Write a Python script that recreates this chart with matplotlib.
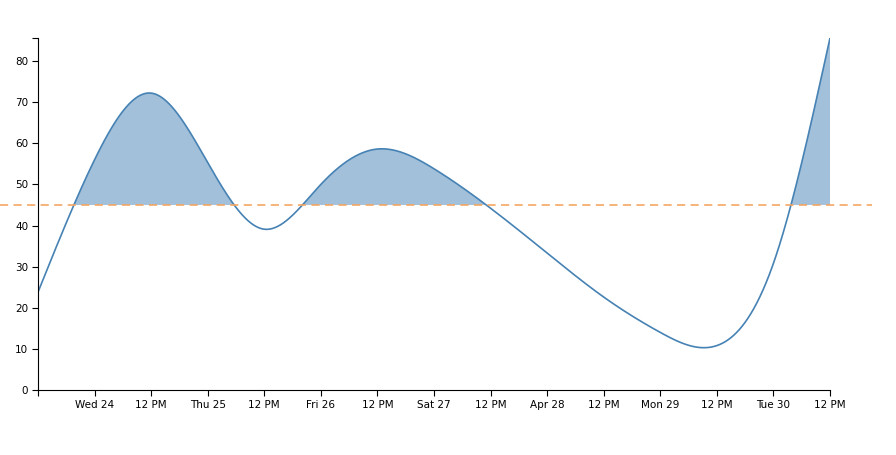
import numpy as np
import matplotlib
matplotlib.use("Agg")
import matplotlib.pyplot as plt
import matplotlib.dates as mdates
from datetime import datetime

# readings every 12 hours
times = ["2024-04-23 12:00", "2024-04-24 00:00", "2024-04-24 12:00",
         "2024-04-25 00:00", "2024-04-25 12:00", "2024-04-26 00:00",
         "2024-04-26 12:00", "2024-04-27 00:00", "2024-04-27 12:00",
         "2024-04-28 00:00", "2024-04-28 12:00", "2024-04-29 00:00",
         "2024-04-29 12:00", "2024-04-30 00:00", "2024-04-30 12:00"]
values = [23.8, 56.0, 72.2, 55.3, 39.1, 50.0, 58.6, 53.8, 44.2,
          33.3, 22.6, 14.0, 10.8, 30.8, 85.6]
threshold = 45

tick_times = ["2024-04-24 00:00", "2024-04-24 12:00", "2024-04-25 00:00",
              "2024-04-25 12:00", "2024-04-26 00:00", "2024-04-26 12:00",
              "2024-04-27 00:00", "2024-04-27 12:00", "2024-04-28 00:00",
              "2024-04-28 12:00", "2024-04-29 00:00", "2024-04-29 12:00",
              "2024-04-30 00:00", "2024-04-30 12:00"]
tick_labels = ["Wed 24", "12 PM", "Thu 25", "12 PM", "Fri 26", "12 PM",
               "Sat 27", "12 PM", "Apr 28", "12 PM", "Mon 29", "12 PM",
               "Tue 30", "12 PM"]


def natural_spline(x, y, xs):
    # natural cubic spline, like d3.curveNatural on evenly spaced points
    x = np.asarray(x, float)
    y = np.asarray(y, float)
    n = len(x)
    h = np.diff(x)
    A = np.zeros((n, n))
    r = np.zeros(n)
    A[0, 0] = 1
    A[-1, -1] = 1
    for i in range(1, n - 1):
        A[i, i - 1] = h[i - 1]
        A[i, i] = 2 * (h[i - 1] + h[i])
        A[i, i + 1] = h[i]
        r[i] = 6 * ((y[i + 1] - y[i]) / h[i] - (y[i] - y[i - 1]) / h[i - 1])
    m = np.linalg.solve(A, r)
    idx = np.clip(np.searchsorted(x, xs) - 1, 0, n - 2)
    x0, x1 = x[idx], x[idx + 1]
    hh = x1 - x0
    a = (x1 - xs) / hh
    b = (xs - x0) / hh
    return (a * y[idx] + b * y[idx + 1]
            + ((a ** 3 - a) * m[idx] + (b ** 3 - b) * m[idx + 1]) * hh ** 2 / 6)


t = mdates.date2num([datetime.strptime(s, "%Y-%m-%d %H:%M") for s in times])
ticks = mdates.date2num([datetime.strptime(s, "%Y-%m-%d %H:%M") for s in tick_times])

xd = np.linspace(t[0], t[-1], 2000)
yd = natural_spline(t, values, xd)

fig = plt.figure(figsize=(8.96, 4.55), dpi=100)
W, H = 896, 455
ax = fig.add_axes([38 / W, (H - 390) / H, 792 / W, 352 / H])

ax.fill_between(xd, yd, threshold, where=yd > threshold, interpolate=True,
                color="steelblue", alpha=0.5, linewidth=0)
ax.plot(xd, yd, color="steelblue", linewidth=1.2)
ax.axhline(threshold, xmin=-38 / 792, xmax=(872 - 38) / 792, clip_on=False,
           color="sandybrown", linewidth=1.3, dashes=(4.5, 3), alpha=0.9)

ax.set_xlim(t[0], t[-1])
ax.set_ylim(0, max(values))
ax.set_xticks(ticks)
ax.set_xticklabels(tick_labels)
ax.set_xticks([t[0]], minor=True)
ax.set_yticks(np.arange(0, 81, 10))
ax.set_yticks([max(values)], minor=True)

for s in ["top", "right"]:
    ax.spines[s].set_visible(False)
for s in ["left", "bottom"]:
    ax.spines[s].set_linewidth(0.8)
ax.tick_params(which="both", length=4.5, width=0.8, pad=2.5, labelsize=7.5)

plt.savefig("out.png", dpi=100)
